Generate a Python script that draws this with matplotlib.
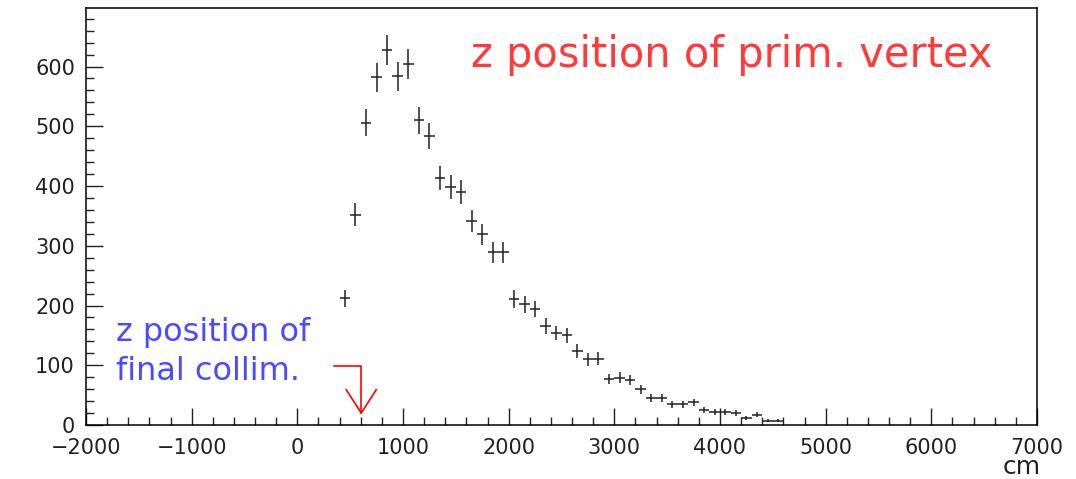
import numpy as np
import matplotlib
matplotlib.use("Agg")
import matplotlib.pyplot as plt
from matplotlib.ticker import MultipleLocator

# histogram of the primary vertex z position, 100 cm bins
bin_centers = [450, 550, 650, 750, 850, 950, 1050, 1150, 1250, 1350,
               1450, 1550, 1650, 1750, 1850, 1950, 2050, 2150, 2250, 2350,
               2450, 2550, 2650, 2750, 2850, 2950, 3050, 3150, 3250, 3350,
               3450, 3550, 3650, 3750, 3850, 3950, 4050, 4150, 4250, 4350,
               4450, 4550]
counts = [212, 352, 506, 582, 628, 584, 604, 510, 484, 414,
          398, 390, 341, 319, 289, 289, 211, 202, 194, 166,
          154, 150, 124, 110, 111, 77, 79, 75, 60, 45,
          45, 35, 35, 38, 25, 22, 22, 20, 11, 17,
          7, 7]
bin_width = 100

collim_z = 605
xticks = [-2000, -1000, 0, 1000, 2000, 3000, 4000, 5000, 6000, 7000]
yticks = [0, 100, 200, 300, 400, 500, 600]

x = np.array(bin_centers)
y = np.array(counts, dtype=float)
yerr = np.sqrt(y)

plt.rcParams.update({
    "font.family": "DejaVu Sans",
    "font.size": 15,
})

fig = plt.figure(figsize=(10.76, 4.79), dpi=100)
ax = fig.add_axes([86 / 1076, 54 / 479, 951 / 1076, 417 / 479])

ax.errorbar(x, y, xerr=bin_width / 2, yerr=yerr, fmt="none",
            ecolor="#222222", elinewidth=1.1, capsize=0)

ax.set_xlim(-2000, 7000)
ax.set_ylim(0, 698)
ax.set_xticks(xticks)
ax.set_xticklabels(["\u2212%d" % -v if v < 0 else "%d" % v for v in xticks])
ax.set_yticks(yticks)
ax.xaxis.set_minor_locator(MultipleLocator(200))
ax.yaxis.set_minor_locator(MultipleLocator(20))
ax.tick_params(which="both", direction="in", top=False, right=False,
               width=1.0, colors="#222222", labelsize=15)
ax.tick_params(axis="x", which="major", length=12, pad=9)
ax.tick_params(axis="y", which="major", length=12, pad=8)
ax.tick_params(which="minor", length=6)
for s in ax.spines.values():
    s.set_linewidth(1.1)

ax.text(1640, 620, "z position of prim. vertex", color="#ff3a3a",
        fontsize=30, va="center", ha="left")
ax.text(-1720, 122, "z position of\nfinal collim.", color="#4a4aff",
        fontsize=23, va="center", ha="left", linespacing=1.35)

# arrow to the collimator position
ax.plot([350, collim_z, collim_z], [99, 99, 20], color="red", lw=1.2)
ax.plot([collim_z - 142, collim_z, collim_z + 142], [59, 20, 59],
        color="red", lw=1.2)

fig.text(1022 / 1076, 5 / 479, "cm", fontsize=18, ha="center",
         va="baseline", color="#222222")

fig.savefig("out.png", dpi=100)
